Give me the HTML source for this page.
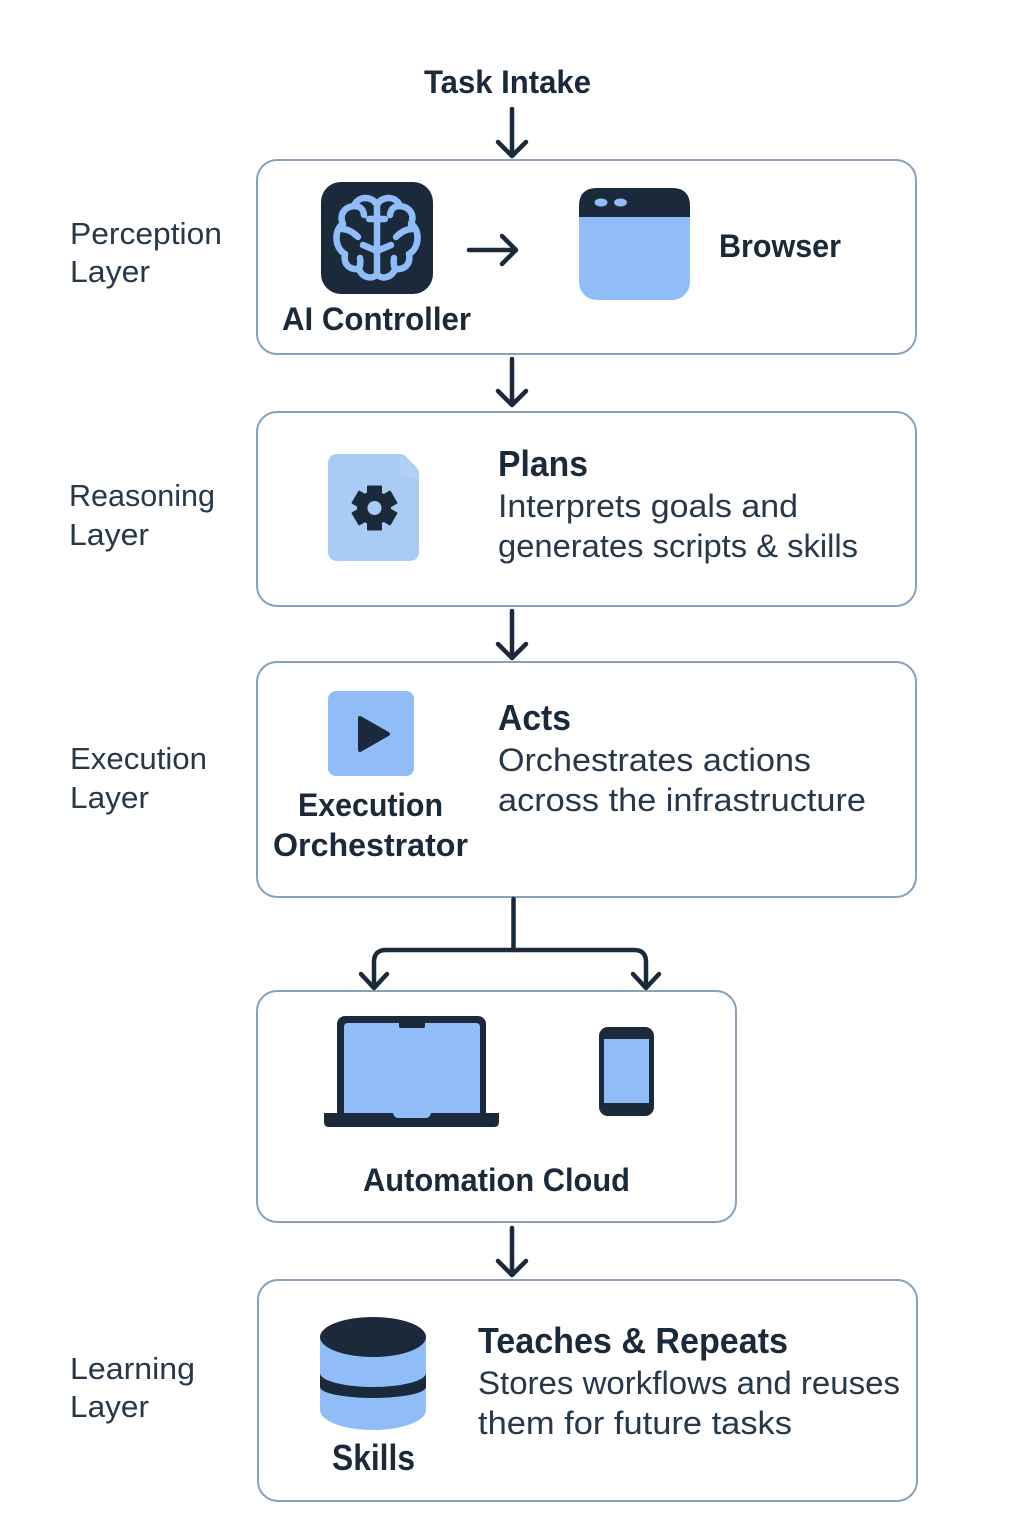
<!DOCTYPE html>
<html><head><meta charset="utf-8"><style>
html,body{margin:0;padding:0;background:#fff}
svg{display:block}
text{font-family:"Liberation Sans",sans-serif;fill:#1b2a3b}
.l{font-size:31px;fill:#26384a}
.b{font-size:32px;font-weight:bold}
.t{font-size:36px;font-weight:bold}
.d{font-size:32px;fill:#26384a}
.box{fill:#fff;stroke:#86a3bb;stroke-width:2}
.ar{fill:none;stroke:#1b2a3b;stroke-width:4.500;stroke-linecap:round;stroke-linejoin:round}
</style></head><body>
<svg width="1024" height="1536" viewBox="0 0 1024 1536" xmlns="http://www.w3.org/2000/svg">
<rect width="1024" height="1536" fill="#fff"/>
<rect class="box" x="257" y="160" width="659" height="194" rx="20"/>
<rect class="box" x="257" y="412" width="659" height="194" rx="20"/>
<rect class="box" x="257" y="662" width="659" height="235" rx="20"/>
<rect class="box" x="257" y="991" width="479" height="231" rx="20"/>
<rect class="box" x="258" y="1280" width="659" height="221" rx="20"/>

<g class="ar">
<path d="M512 109V156M498 142L512 156L526 142"/>
<path d="M512 359V405M498 391L512 405L526 391"/>
<path d="M512 611V658M498 644L512 658L526 644"/>
<path d="M512 1228V1275M498 1261L512 1275L526 1261"/>
<path d="M469 250H516M502 236L516 250L502 264"/>
<path d="M513.500 899V950"/>
<path d="M374 987V962Q374 950 386 950H634Q646 950 646 962V987"/>
<path d="M361 974L374 988L387 974M633 974L646 988L659 974"/>
</g>

<text class="b" x="424" y="93" textLength="167" lengthAdjust="spacingAndGlyphs">Task Intake</text>
<text class="l" x="70" y="244" textLength="152" lengthAdjust="spacingAndGlyphs">Perception</text>
<text class="l" x="70" y="282" textLength="80" lengthAdjust="spacingAndGlyphs">Layer</text>
<text class="l" x="69" y="506" textLength="146" lengthAdjust="spacingAndGlyphs">Reasoning</text>
<text class="l" x="69" y="545" textLength="80" lengthAdjust="spacingAndGlyphs">Layer</text>
<text class="l" x="70" y="769" textLength="137" lengthAdjust="spacingAndGlyphs">Execution</text>
<text class="l" x="70" y="808" textLength="79" lengthAdjust="spacingAndGlyphs">Layer</text>
<text class="l" x="70" y="1379" textLength="125" lengthAdjust="spacingAndGlyphs">Learning</text>
<text class="l" x="70" y="1417" textLength="79" lengthAdjust="spacingAndGlyphs">Layer</text>

<!-- AI controller -->
<rect x="321" y="182" width="112" height="112" rx="20" fill="#1b2a3b"/>
<g fill="none" stroke="#90bdf8" stroke-width="6.500" stroke-linecap="round" stroke-linejoin="round">
<g>
<path d="M377 205C373 196 358 195 354 206C344 207 339 215 343 224C334 229 334 248 345 254C343 265 350 270 359 269C362 278 373 280 377 274"/>
<path d="M342 229Q350 229 358 237M377 251L363 245M354 206Q363 206 364 215M359 269Q361 264 360 258"/>
</g>
<g transform="translate(754 0) scale(-1 1)">
<path d="M377 205C373 196 358 195 354 206C344 207 339 215 343 224C334 229 334 248 345 254C343 265 350 270 359 269C362 278 373 280 377 274"/>
<path d="M342 229Q350 229 358 237M377 251L363 245M354 206Q363 206 364 215M359 269Q361 264 360 258"/>
</g>
<path d="M377 207V272M369 219H385"/>
</g>
<text class="b" x="282" y="330" textLength="189" lengthAdjust="spacingAndGlyphs">AI Controller</text>

<!-- Browser -->
<rect x="579" y="188" width="111" height="112" rx="18" fill="#90bdf8"/>
<path d="M579 217V206Q579 188 597 188H672Q690 188 690 206V217Z" fill="#1b2a3b"/>
<ellipse cx="601" cy="202.500" rx="6.500" ry="4" fill="#90bdf8"/>
<ellipse cx="620.500" cy="202.500" rx="6.500" ry="4" fill="#90bdf8"/>
<text class="b" x="719" y="257" textLength="122" lengthAdjust="spacingAndGlyphs">Browser</text>

<!-- Doc -->
<path d="M338 454H400Q403 454 405 456L416 467Q419 470 419 473V551Q419 561 409 561H338Q328 561 328 551V464Q328 454 338 454Z" fill="#a9ccf6"/>
<path d="M400 454Q403 454 405 456L416 467Q419 470 419 473V478H405Q400 478 400 472Z" fill="#b0d0f6"/>
<g fill="#1b2a3b">
<circle cx="374" cy="508" r="17"/>
<rect x="367" y="485.500" width="15" height="45" rx="1"/>
<rect x="367" y="485.500" width="15" height="45" rx="1" transform="rotate(60 374.500 508)"/>
<rect x="367" y="485.500" width="15" height="45" rx="1" transform="rotate(120 374.500 508)"/>
</g>
<circle cx="374.500" cy="508" r="7" fill="#a9ccf6"/>
<text class="t" x="498" y="476" textLength="90" lengthAdjust="spacingAndGlyphs">Plans</text>
<text class="d" x="498" y="517" textLength="300" lengthAdjust="spacingAndGlyphs">Interprets goals and</text>
<text class="d" x="498" y="557" textLength="360" lengthAdjust="spacingAndGlyphs">generates scripts &amp; skills</text>

<!-- Play -->
<rect x="328" y="691" width="86" height="85" rx="8" fill="#90bdf8"/>
<path d="M360 718L388 734L360 750Z" fill="#1b2a3b" stroke="#1b2a3b" stroke-width="4" stroke-linejoin="round"/>
<text class="b" x="298" y="816" textLength="145" lengthAdjust="spacingAndGlyphs">Execution</text>
<text class="b" x="273" y="856" textLength="195" lengthAdjust="spacingAndGlyphs">Orchestrator</text>
<text class="t" x="498" y="730" textLength="73" lengthAdjust="spacingAndGlyphs">Acts</text>
<text class="d" x="498" y="771" textLength="313" lengthAdjust="spacingAndGlyphs">Orchestrates actions</text>
<text class="d" x="498" y="811" textLength="368" lengthAdjust="spacingAndGlyphs">across the infrastructure</text>

<!-- Laptop -->
<rect x="337" y="1016" width="149" height="104" rx="8" fill="#1b2a3b"/>
<path d="M348 1023H476Q480 1023 480 1027V1118H344V1027Q344 1023 348 1023Z" fill="#90bdf8"/>
<path d="M399 1023H425V1026Q425 1028 423 1028H401Q399 1028 399 1026Z" fill="#1b2a3b"/>
<path d="M324 1113H393Q394 1118 399 1118H425Q430 1118 431 1113H499V1122Q499 1127 494 1127H329Q324 1127 324 1122Z" fill="#1b2a3b"/>
<!-- Phone -->
<rect x="599" y="1027" width="55" height="89" rx="9" fill="#1b2a3b"/>
<rect x="604" y="1039" width="45" height="64" fill="#90bdf8"/>
<text class="b" x="363" y="1191" textLength="267" lengthAdjust="spacingAndGlyphs">Automation Cloud</text>

<!-- DB -->
<path d="M320 1337V1410A53 20 0 0 0 426 1410V1337Z" fill="#90bdf8"/>
<path d="M320 1373A53 14 0 0 0 426 1373V1387A53 11 0 0 1 320 1387Z" fill="#1b2a3b"/>
<ellipse cx="373" cy="1337" rx="53" ry="20" fill="#1b2a3b"/>
<text class="t" x="332" y="1470" textLength="83" lengthAdjust="spacingAndGlyphs">Skills</text>
<text class="t" x="478" y="1353" textLength="310" lengthAdjust="spacingAndGlyphs">Teaches &amp; Repeats</text>
<text class="d" x="478" y="1394" textLength="422" lengthAdjust="spacingAndGlyphs">Stores workflows and reuses</text>
<text class="d" x="478" y="1434" textLength="314" lengthAdjust="spacingAndGlyphs">them for future tasks</text>
</svg>
</body></html>
